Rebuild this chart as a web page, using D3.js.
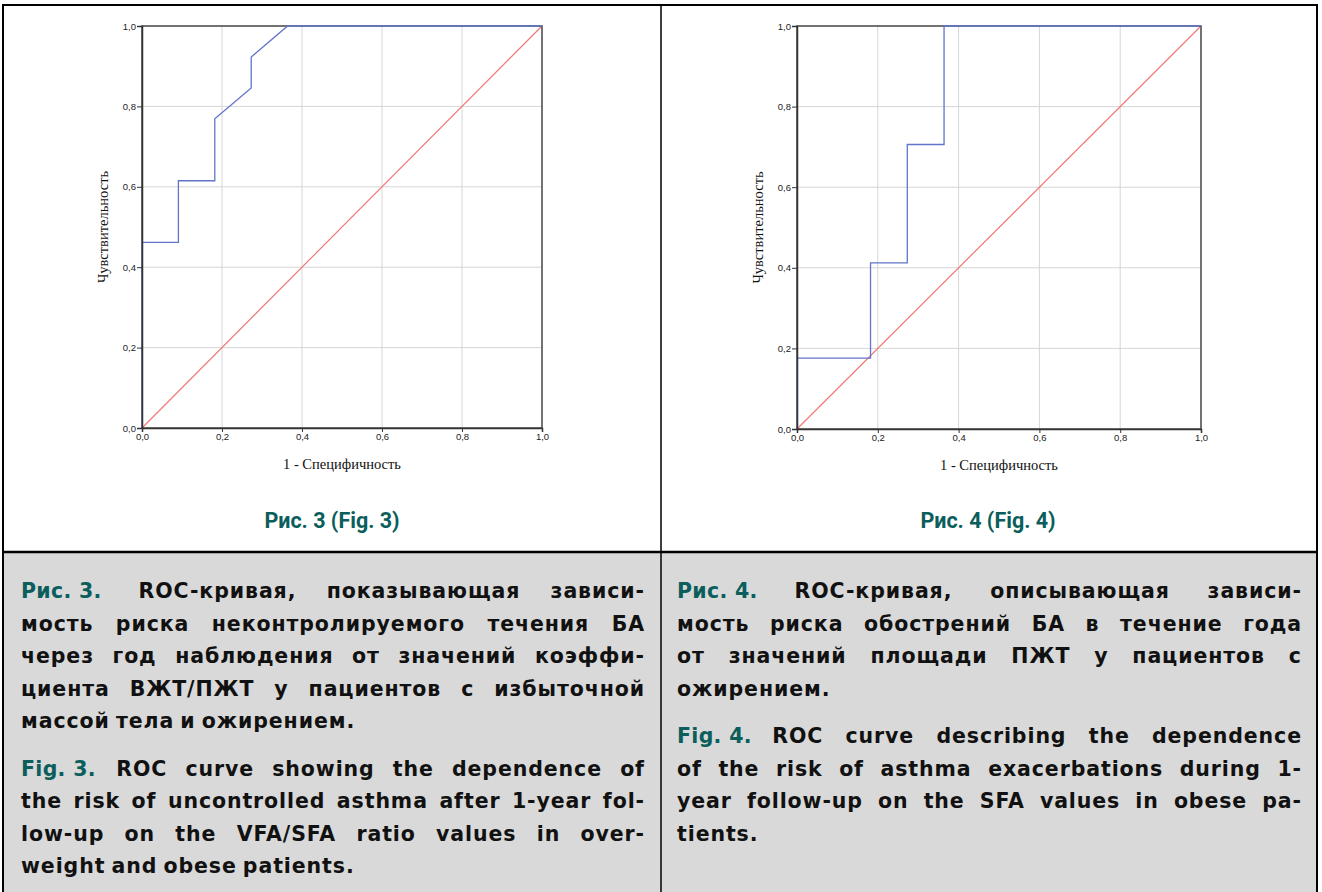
<!DOCTYPE html>
<html>
<head>
<meta charset="utf-8">
<script src="https://cdn.jsdelivr.net/npm/d3@7"></script>
<style>
  body { margin: 0; background: #fff; }
  #page { position: relative; width: 1322px; height: 892px; overflow: hidden; }
  #page svg { position: absolute; left: 0; top: 0; }
  .cap { position: absolute; font-family: "DejaVu Sans", "Open Sans", sans-serif; font-weight: 700;
         font-size: 20.5px; color: #111; letter-spacing: 0.9px; }
  .ln { display: flex; height: 32.5px; align-items: center; white-space: nowrap; }
  .ln.j { justify-content: space-between; }
  .ln.l > span { margin-right: 0.3em; }
  .teal { color: #0b5e5c; }
</style>
</head>
<body>
<div id="page"></div>
<script>
// tick values shared by both plots
var ticks = [0, 0.2, 0.4, 0.6, 0.8, 1.0];

// Fig. 3 ROC curve (1 - specificity, sensitivity)
var roc3FPR = [0, 0, 0.091, 0.091, 0.182, 0.182, 0.273, 0.273, 0.364, 1];
var roc3TPR = [0, 0.462, 0.462, 0.615, 0.615, 0.769, 0.846, 0.923, 1, 1];

// Fig. 4 ROC curve
var roc4FPR = [0, 0, 0.182, 0.182, 0.273, 0.273, 0.364, 0.364, 1];
var roc4TPR = [0, 0.176, 0.176, 0.412, 0.412, 0.706, 0.706, 1, 1];

// reference diagonal
var refLine = [0, 1];

var xTitle = "1 - Специфичность",
    yTitle = "Чувствительность";

var figTitles = ["Рис. 3 (Fig. 3)", "Рис. 4 (Fig. 4)"];

// caption lines: [teal lead, text, justify?]
var caption3 = [
  ["Рис. 3.", "ROC-кривая, показывающая зависи-", true],
  ["", "мость риска неконтролируемого течения БА", true],
  ["", "через год наблюдения от значений коэффи-", true],
  ["", "циента ВЖТ/ПЖТ у пациентов с избыточной", true],
  ["", "массой тела и ожирением.", false],
  null,
  ["Fig. 3.", "ROC curve showing the dependence of", true],
  ["", "the risk of uncontrolled asthma after 1-year fol-", true],
  ["", "low-up on the VFA/SFA ratio values in over-", true],
  ["", "weight and obese patients.", false]
];
var caption4 = [
  ["Рис. 4.", "ROC-кривая, описывающая зависи-", true],
  ["", "мость риска обострений БА в течение года", true],
  ["", "от значений площади ПЖТ у пациентов с", true],
  ["", "ожирением.", false],
  null,
  ["Fig. 4.", "ROC curve describing the dependence", true],
  ["", "of the risk of asthma exacerbations during 1-", true],
  ["", "year follow-up on the SFA values in obese pa-", true],
  ["", "tients.", false]
];

var W = 1322, H = 892;
var page = d3.select("#page");
var svg = page.append("svg").attr("width", W).attr("height", H);

// table backgrounds and borders
svg.append("rect").attr("x", 4).attr("y", 553).attr("width", 1313).attr("height", H - 553).attr("fill", "#d9d9d9");
var border = svg.append("g").attr("stroke", "#000").attr("fill", "none");
border.append("line").attr("x1", 3).attr("x2", 3).attr("y1", 4).attr("y2", H).attr("stroke-width", 2);
border.append("line").attr("x1", 1317).attr("x2", 1317).attr("y1", 4).attr("y2", H).attr("stroke-width", 2);
border.append("line").attr("x1", 2).attr("x2", 1318).attr("y1", 5).attr("y2", 5).attr("stroke-width", 2);
border.append("line").attr("x1", 661).attr("x2", 661).attr("y1", 5).attr("y2", H).attr("stroke-width", 1.5);
border.append("line").attr("x1", 2).attr("x2", 1318).attr("y1", 552).attr("y2", 552).attr("stroke-width", 2.5);

var fmt = function(d) { return d3.format(".1f")(d).replace(".", ","); };

function rocChart(box, fpr, tpr, title, titleX) {
  var x = d3.scaleLinear().domain([0, 1]).range([box.left, box.right]);
  var y = d3.scaleLinear().domain([0, 1]).range([box.bottom, box.top]);
  var g = svg.append("g");

  // grid
  g.append("g").selectAll("line").data(ticks.slice(1, -1)).enter().append("line")
    .attr("x1", function(d) { return x(d); }).attr("x2", function(d) { return x(d); })
    .attr("y1", y(0)).attr("y2", y(1)).attr("stroke", "#d6d6d6").attr("stroke-width", 1);
  g.append("g").selectAll("line").data(ticks.slice(1, -1)).enter().append("line")
    .attr("y1", function(d) { return y(d); }).attr("y2", function(d) { return y(d); })
    .attr("x1", x(0)).attr("x2", x(1)).attr("stroke", "#d6d6d6").attr("stroke-width", 1);

  // diagonal
  g.append("line")
    .attr("x1", x(refLine[0])).attr("y1", y(refLine[0]))
    .attr("x2", x(refLine[1])).attr("y2", y(refLine[1]))
    .attr("stroke", "#f07878").attr("stroke-width", 1.2);

  // frame
  g.append("rect").attr("x", x(0)).attr("y", y(1))
    .attr("width", x(1) - x(0)).attr("height", y(0) - y(1))
    .attr("fill", "none").attr("stroke", "#444").attr("stroke-width", 1.5);

  // ROC curve
  var pts = fpr.map(function(v, i) { return [v, tpr[i]]; });
  g.append("path").datum(pts)
    .attr("d", d3.line().x(function(d) { return x(d[0]); }).y(function(d) { return y(d[1]); }))
    .attr("fill", "none").attr("stroke", "#6275c9").attr("stroke-width", 1.3);

  // axes
  var xAxis = d3.axisBottom(x).tickValues(ticks).tickFormat(fmt).tickSize(4).tickPadding(1);
  var yAxis = d3.axisLeft(y).tickValues(ticks).tickFormat(fmt).tickSize(5).tickPadding(1);
  var ax = g.append("g").attr("transform", "translate(0," + y(0) + ")").call(xAxis);
  var ay = g.append("g").attr("transform", "translate(" + x(0) + ",0)").call(yAxis);
  [ax, ay].forEach(function(a) {
    a.select(".domain").attr("stroke", "#333").attr("stroke-width", 1.5);
    a.selectAll(".tick line").attr("stroke", "#333");
    a.selectAll("text").attr("font-family", "Liberation Sans, Arial, sans-serif")
      .attr("font-size", 9.5).attr("fill", "#222");
  });

  // axis titles
  g.append("text").attr("x", (x(0) + x(1)) / 2).attr("y", box.bottom + 41)
    .attr("text-anchor", "middle").attr("font-family", "Liberation Serif, Times New Roman, serif")
    .attr("font-size", 14.5).attr("fill", "#111").text(xTitle);
  g.append("text").attr("transform", "translate(" + (x(0) - 34) + "," + (box.top + box.bottom) / 2 + ") rotate(-90)")
    .attr("text-anchor", "middle").attr("font-family", "Liberation Serif, Times New Roman, serif")
    .attr("font-size", 14.5).attr("fill", "#111").text(yTitle);

  // figure label
  svg.append("text").attr("x", titleX).attr("y", 528).attr("text-anchor", "middle")
    .attr("font-family", "Roboto, sans-serif").attr("font-weight", 700)
    .attr("font-size", 21.5).attr("fill", "#0b5e5c").text(title);
}

rocChart({left: 142, right: 542, top: 26, bottom: 428}, roc3FPR, roc3TPR, figTitles[0], 332);
rocChart({left: 797, right: 1201, top: 26, bottom: 429}, roc4FPR, roc4TPR, figTitles[1], 988);

function caption(lines, left, width) {
  var box = page.append("div").attr("class", "cap")
    .style("left", left + "px").style("top", "575px").style("width", width + "px");
  lines.forEach(function(l) {
    if (!l) { box.append("div").style("height", "15px"); return; }
    var row = box.append("div").attr("class", "ln " + (l[2] ? "j" : "l"));
    var words = l[1].split(" ");
    if (l[0]) {
      var first = row.append("span");
      first.append("span").attr("class", "teal").style("letter-spacing", "0.3px").text(l[0].replace(" ", "\u00a0"));
      first.append("span").style("margin-left", l[0][0] === "Р" ? "1.8em" : "1em").text(words.shift());
    }
    words.forEach(function(w) { row.append("span").text(w); });
  });
}
caption(caption3, 21, 624);
caption(caption4, 677, 625);
</script>
</body>
</html>
